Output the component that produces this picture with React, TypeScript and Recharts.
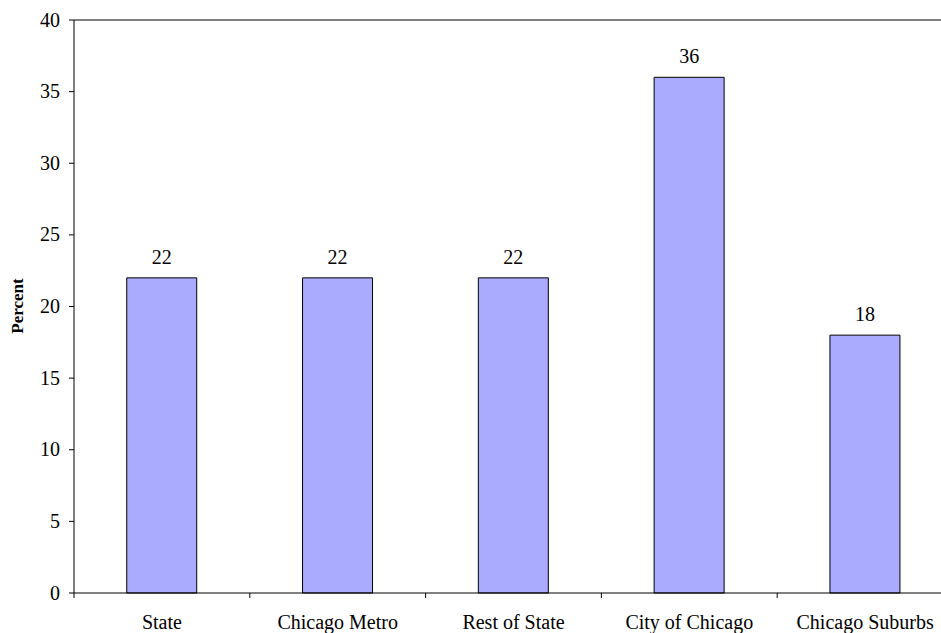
import { BarChart, Bar, XAxis, YAxis, LabelList, ReferenceLine } from "recharts";

const categories = ["State", "Chicago Metro", "Rest of State", "City of Chicago", "Chicago Suburbs"];
const percentValues = [22, 22, 22, 36, 18];
const yTicks = [0, 5, 10, 15, 20, 25, 30, 35, 40];

const data = categories.map((name, i) => ({ name, value: percentValues[i] }));

const CHART_W = 960;
const CHART_H = 633;
const Y_AXIS_W = 74;
const MARGIN = { top: 20, right: 7, left: 0, bottom: 0 };
const HALF_BAND = (CHART_W - MARGIN.right - Y_AXIS_W) / categories.length / 2;
const FONT = "Liberation Serif, Times New Roman, DejaVu Serif, serif";
const FONT_SIZE = 20;
const textStyle = { fontFamily: FONT, fontSize: FONT_SIZE };

// category label centred in its band, with the tick mark on the band's left edge
function CategoryTick(props: any) {
  const { x, y, payload } = props;
  const edge = x - HALF_BAND;
  return (
    <g>
      <line x1={edge} x2={edge} y1={y} y2={y + 5} stroke="#000" />
      <text x={x} y={y + 36} textAnchor="middle" style={textStyle} fill="#000">
        {payload.value}
      </text>
    </g>
  );
}

function ValueTick(props: any) {
  const { x, y, payload } = props;
  return (
    <text x={x} y={y} dy={6.5} textAnchor="end" style={textStyle} fill="#000">
      {payload.value}
    </text>
  );
}

function PercentLabel() {
  return (
    <text
      x={23}
      y={306}
      transform="rotate(-90 23 306)"
      textAnchor="middle"
      style={{ fontFamily: FONT, fontSize: 17, fontWeight: "bold" }}
      fill="#000"
    >
      Percent
    </text>
  );
}

export default function App() {
  return (
    <div style={{ position: "fixed", left: 0, top: 0, width: 941, height: 633, overflow: "hidden", background: "#fff" }}>
      <BarChart width={CHART_W} height={CHART_H} data={data} margin={MARGIN} barCategoryGap="30%">
        <XAxis
          dataKey="name"
          height={40}
          tickSize={0}
          tickMargin={0}
          tickLine={false}
          axisLine={{ stroke: "#000" }}
          tick={<CategoryTick />}
          interval={0}
        />
        <YAxis
          width={Y_AXIS_W}
          domain={[0, 40]}
          ticks={yTicks}
          tickSize={5}
          tickMargin={9}
          axisLine={{ stroke: "#000" }}
          tickLine={{ stroke: "#000" }}
          tick={<ValueTick />}
          label={<PercentLabel />}
        />
        <ReferenceLine y={40} stroke="#000" />
        <Bar dataKey="value" fill="#aaaaff" stroke="#000" strokeWidth={1} isAnimationActive={false}>
          <LabelList dataKey="value" position="top" offset={14} fill="#000" style={textStyle} />
        </Bar>
      </BarChart>
    </div>
  );
}
